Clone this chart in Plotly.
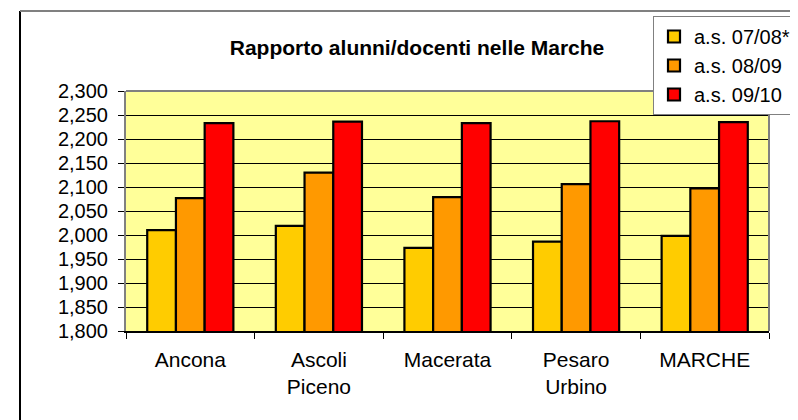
import plotly.graph_objects as go

categories = ["Ancona", "Ascoli<br>Piceno", "Macerata", "Pesaro<br>Urbino", "MARCHE"]
series_names = ["a.s. 07/08*", "a.s. 08/09", "a.s. 09/10"]
v_0708 = [2.010, 2.019, 1.973, 1.986, 1.998]
v_0809 = [2.077, 2.130, 2.079, 2.106, 2.097]
v_0910 = [2.233, 2.236, 2.233, 2.237, 2.235]
colors = ["#FFCC00", "#FF9900", "#FF0000"]
y_ticks = [1.8, 1.85, 1.9, 1.95, 2.0, 2.05, 2.1, 2.15, 2.2, 2.25, 2.3]

# page has an 8px body margin: figure spans screen x 8..798, y 8..420
OFF = 8
W, H = 798 - OFF, 420 - OFF
L, R, T, B = 126 - OFF, 29, 91 - OFF, 89

fig = go.Figure()
for name, vals, col in zip(series_names, [v_0708, v_0809, v_0910], colors):
    fig.add_trace(go.Bar(
        x=categories, y=vals, name=name,
        marker=dict(color=col, line=dict(color="#000000", width=2.2)),
    ))

FONT = "Liberation Sans, Arial, sans-serif"
pw = W - L - R
ph = H - T - B

def px_x(sx):
    return (sx - OFF - L) / pw

def px_y(sy):
    return (H - B - (sy - OFF)) / ph

fig.update_layout(
    width=W, height=H,
    margin=dict(l=L, r=R, t=T, b=B, pad=0, autoexpand=False),
    paper_bgcolor="white",
    plot_bgcolor="#FFFF99",
    barmode="group",
    bargap=0.33,
    bargroupgap=0.0,
    separators=",.",
    font=dict(family=FONT, size=20, color="#000000"),
    title=dict(
        text="<b>Rapporto alunni/docenti nelle Marche</b>",
        x=(417 - OFF) / W, xref="container", xanchor="center",
        y=1 - (48 - OFF) / H, yref="container", yanchor="middle",
        font=dict(family=FONT, size=21, color="#000000"),
    ),
    legend=dict(
        x=px_x(653), y=px_y(16),
        xanchor="left", yanchor="top",
        bgcolor="white", bordercolor="#808080", borderwidth=1,
        font=dict(family=FONT, size=20, color="#000000"),
        tracegroupgap=0,
    ),
    xaxis=dict(
        type="category",
        tickson="boundaries",
        ticks="outside", ticklen=6, tickcolor="#000000", tickwidth=1,
        showline=True, linecolor="#000000", linewidth=1.5,
        showgrid=False,
        ticklabelstandoff=9,
        tickfont=dict(family=FONT, size=21, color="#000000"),
        mirror=False,
    ),
    yaxis=dict(
        range=[1.8, 2.3],
        tickvals=y_ticks,
        tickformat=".3f",
        ticks="outside", ticklen=6, tickcolor="#000000", tickwidth=1,
        showline=True, linecolor="#808080", linewidth=2,
        showgrid=True, gridcolor="#000000", gridwidth=1,
        ticklabelstandoff=6,
        tickfont=dict(family=FONT, size=20, color="#000000"),
        zeroline=False,
    ),
    shapes=[
        dict(type="line", xref="paper", yref="paper", x0=1, x1=1, y0=0, y1=1,
             line=dict(color="#808080", width=2)),
        dict(type="line", xref="paper", yref="paper", x0=0, x1=1, y0=1, y1=1,
             line=dict(color="#808080", width=2)),
        dict(type="line", xref="paper", yref="paper",
             x0=px_x(20), x1=px_x(20), y0=px_y(11), y1=-2,
             line=dict(color="#000000", width=2)),
        dict(type="line", xref="paper", yref="paper",
             x0=px_x(20), x1=2, y0=px_y(11), y1=px_y(11),
             line=dict(color="#808080", width=2)),
    ],
)

fig.write_html("out.html")
